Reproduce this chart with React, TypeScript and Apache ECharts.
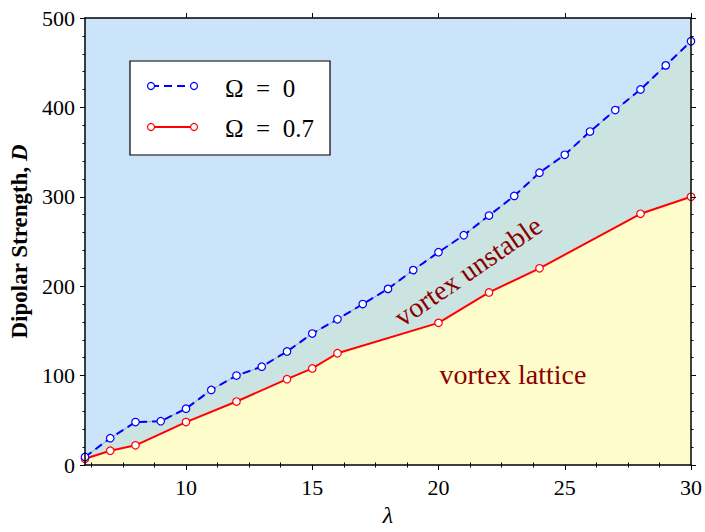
import React, { useEffect, useRef } from "react";
import * as echarts from "echarts";

const lambdaOmega0 = [6, 7, 8, 9, 10, 11, 12, 13, 14, 15, 16, 17, 18, 19, 20, 21, 22, 23, 24, 25, 26, 27, 28, 29, 30];
const dOmega0 = [9, 30, 48, 49, 63, 84, 100, 110, 127, 147, 163, 180, 197, 218, 238, 257, 279, 301, 327, 347, 373, 397, 420, 447, 474];
const lambdaOmega07 = [6, 7, 8, 10, 12, 14, 15, 16, 20, 22, 24, 28, 30];
const dOmega07 = [7, 16, 22, 48, 71, 96, 108, 125, 159, 193, 220, 281, 300];
const xMajorTicks = [10, 15, 20, 25, 30];
const xMinorTicks = [6.25, 7.5, 8.75, 11.25, 12.5, 13.75, 16.25, 17.5, 18.75, 21.25, 22.5, 23.75, 26.25, 27.5, 28.75];
const legendLabels = ["\u03A9\u2002=\u20020", "\u03A9\u2002=\u20020.7"];
const regionLabels = ["vortex unstable", "vortex lattice"];

const FONT = "'Liberation Serif', 'DejaVu Serif', serif";

export default function App() {
  const ref = useRef<HTMLDivElement>(null);
  useEffect(() => {
    if (!ref.current) return;
    const chart = echarts.init(ref.current, null, { renderer: "svg" });
    const blue = lambdaOmega0.map((x, i) => [x, dOmega0[i]]);
    const red = lambdaOmega07.map((x, i) => [x, dOmega07[i]]);
    const xBase = {
      type: "value",
      min: 6,
      max: 30,
      gridIndex: 0,
      z: 10,
      splitLine: { show: false },
      axisLine: { show: true, onZero: false, lineStyle: { color: "#000", width: 1.5 } },
    };
    const yBase = {
      type: "value",
      min: 0,
      max: 500,
      interval: 100,
      z: 10,
      splitLine: { show: false },
      axisLine: { show: true, onZero: false, lineStyle: { color: "#000", width: 1.5 } },
      axisTick: { show: true, inside: false, length: 5, lineStyle: { color: "#000", width: 1 } },
      minorTick: { show: true, splitNumber: 5, length: 2.5, lineStyle: { color: "#000", width: 1 } },
    };
    chart.setOption({
      animation: false,
      grid: {
        left: 85,
        right: 14,
        top: 18,
        bottom: 63,
        show: true,
        backgroundColor: "#cce4f9",
        borderWidth: 0,
      },
      xAxis: [
        {
          ...xBase,
          position: "bottom",
          name: "\u03BB",
          nameLocation: "middle",
          nameGap: 38,
          nameTextStyle: { fontFamily: FONT, fontStyle: "italic", fontSize: 24, color: "#000" },
          axisTick: { show: true, inside: false, length: 5, customValues: xMajorTicks, lineStyle: { color: "#000", width: 1 } },
          axisLabel: { show: true, customValues: xMajorTicks, margin: 11, fontFamily: FONT, fontSize: 22, color: "#000" },
        },
        {
          ...xBase,
          position: "bottom",
          axisLine: { show: false },
          axisTick: { show: true, inside: false, length: 2.5, customValues: xMinorTicks, lineStyle: { color: "#000", width: 1 } },
          axisLabel: { show: false },
        },
        {
          ...xBase,
          position: "top",
          axisTick: { show: true, inside: false, length: 5, customValues: xMajorTicks, lineStyle: { color: "#000", width: 1 } },
          axisLabel: { show: false },
        },
        {
          ...xBase,
          position: "top",
          axisLine: { show: false },
          axisTick: { show: true, inside: false, length: 2.5, customValues: xMinorTicks, lineStyle: { color: "#000", width: 1 } },
          axisLabel: { show: false },
        },
      ],
      yAxis: [
        {
          ...yBase,
          position: "left",
          name: "{a|Dipolar Strength, }{b|D}",
          nameLocation: "middle",
          nameGap: 52,
          nameTextStyle: {
            rich: {
              a: { fontFamily: FONT, fontWeight: "bold", fontSize: 23, color: "#000" },
              b: { fontFamily: FONT, fontWeight: "bold", fontStyle: "italic", fontSize: 23, color: "#000" },
            },
          },
          axisLabel: { show: true, margin: 10, fontFamily: FONT, fontSize: 22, color: "#000" },
        },
        {
          ...yBase,
          position: "right",
          axisLabel: { show: false },
        },
      ],
      series: [
        {
          type: "line",
          data: blue,
          xAxisIndex: 0,
          yAxisIndex: 0,
          showSymbol: false,
          symbol: "none",
          lineStyle: { color: "#9aa8ba", width: 1 },
          areaStyle: { color: "#cce4e1", opacity: 1 },
          z: 1,
        },
        {
          type: "line",
          name: legendLabels[1],
          data: red,
          xAxisIndex: 0,
          yAxisIndex: 0,
          symbol: "circle",
          symbolSize: 7.5,
          lineStyle: { color: "#ff0000", width: 2 },
          itemStyle: { color: "#ffffff", borderColor: "#ff0000", borderWidth: 1.2 },
          areaStyle: { color: "#fffccc", opacity: 1 },
          z: 2,
        },
        {
          type: "line",
          name: legendLabels[0],
          data: blue,
          xAxisIndex: 0,
          yAxisIndex: 0,
          symbol: "circle",
          symbolSize: 7.5,
          lineStyle: { color: "#0000ff", width: 2, type: [8, 5] },
          itemStyle: { color: "#ffffff", borderColor: "#0000ff", borderWidth: 1.2 },
          z: 3,
        },
      ],
      graphic: [
        {
          type: "text",
          x: 468,
          y: 271,
          rotation: (34.5 * Math.PI) / 180,
          z: 20,
          style: {
            text: regionLabels[0],
            fontFamily: FONT,
            fontSize: 28,
            fill: "#8b0000",
            textAlign: "center",
            textVerticalAlign: "middle",
          },
        },
        {
          type: "text",
          x: 513,
          y: 374,
          z: 20,
          style: {
            text: regionLabels[1],
            fontFamily: FONT,
            fontSize: 28,
            fill: "#8b0000",
            textAlign: "center",
            textVerticalAlign: "middle",
          },
        },
        {
          type: "group",
          z: 30,
          children: [
            {
              type: "rect",
              shape: { x: 130, y: 61, width: 200, height: 94 },
              style: { fill: "#ffffff", stroke: "#000", lineWidth: 1.2 },
            },
            {
              type: "line",
              shape: { x1: 151, y1: 86, x2: 194, y2: 86 },
              style: { stroke: "#0000ff", lineWidth: 2, lineDash: [8, 5] },
            },
            { type: "circle", shape: { cx: 151, cy: 86, r: 3.5 }, style: { fill: "#fff", stroke: "#0000ff", lineWidth: 1.2 } },
            { type: "circle", shape: { cx: 194, cy: 86, r: 3.5 }, style: { fill: "#fff", stroke: "#0000ff", lineWidth: 1.2 } },
            {
              type: "line",
              shape: { x1: 151, y1: 127, x2: 194, y2: 127 },
              style: { stroke: "#ff0000", lineWidth: 2 },
            },
            { type: "circle", shape: { cx: 151, cy: 127, r: 3.5 }, style: { fill: "#fff", stroke: "#ff0000", lineWidth: 1.2 } },
            { type: "circle", shape: { cx: 194, cy: 127, r: 3.5 }, style: { fill: "#fff", stroke: "#ff0000", lineWidth: 1.2 } },
            {
              type: "text",
              x: 225,
              y: 88,
              style: { text: legendLabels[0], fontFamily: FONT, fontSize: 25, fill: "#000", textAlign: "left", textVerticalAlign: "middle" },
            },
            {
              type: "text",
              x: 225,
              y: 128,
              style: { text: legendLabels[1], fontFamily: FONT, fontSize: 25, fill: "#000", textAlign: "left", textVerticalAlign: "middle" },
            },
          ],
        },
      ],
    });
    return () => chart.dispose();
  }, []);
  return <div ref={ref} style={{ width: 705, height: 532, position: "absolute", left: 0, top: 0 }} />;
}
